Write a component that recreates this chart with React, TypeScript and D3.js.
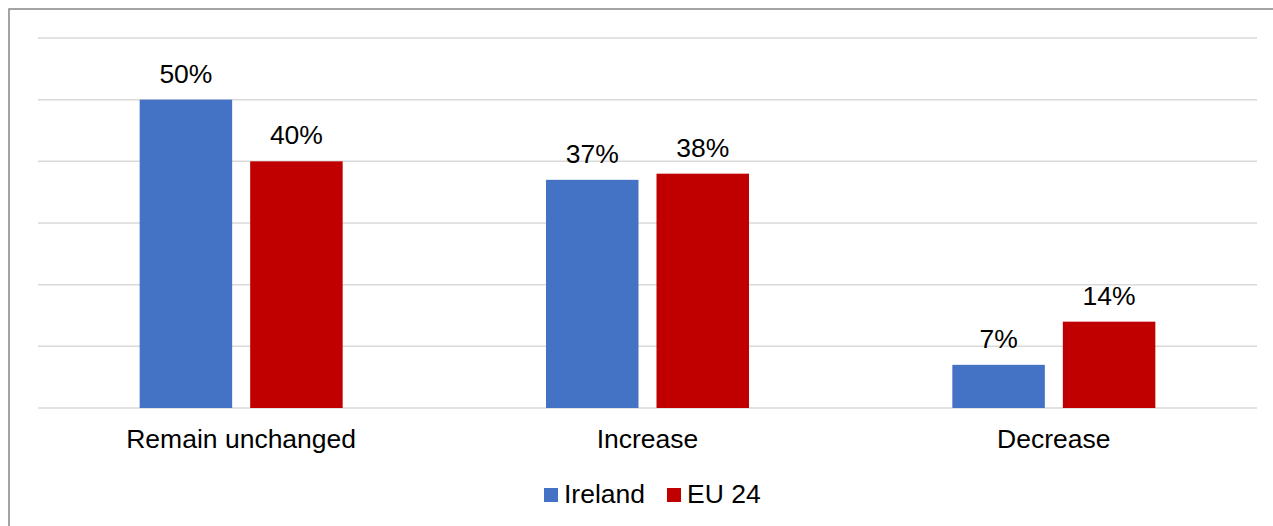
import React from "react";
import * as d3 from "d3";

const categories = ["Remain unchanged", "Increase", "Decrease"];
const seriesNames = ["Ireland", "EU 24"];
const irelandValues = [50, 37, 7];
const eu24Values = [40, 38, 14];
const gridTicks = [0, 10, 20, 30, 40, 50, 60];
const colors = ["#4472C4", "#C00000"];

const W = 1273;
const H = 526;
const FONT = "'Liberation Sans', Arial, sans-serif";
const FS = 26.5;

export default function App() {
  const x = d3.scaleBand<string>().domain(categories).range([38, 1257]).paddingInner(0).paddingOuter(0);
  const groupW = 203;
  const xs = d3.scaleBand<string>().domain(seriesNames).range([0, groupW]).paddingInner(0.163).paddingOuter(0);
  const y = d3.scaleLinear().domain([0, 60]).range([408, 38]);
  const series = [irelandValues, eu24Values];

  return (
    <svg
      width={W}
      height={H}
      style={{ position: "absolute", left: 0, top: 0, display: "block", background: "#fff" }}
    >
      <rect x={9} y={9} width={1300} height={600} fill="#fff" stroke="#868686" strokeWidth={1.5} />
      {gridTicks.map((t) => (
        <line key={t} x1={38} x2={1257} y1={y(t)} y2={y(t)} stroke="#D9D9D9" strokeWidth={1.5} />
      ))}
      {categories.map((c, i) => {
        const gx = (x(c) as number) + (x.bandwidth() - groupW) / 2;
        return (
          <g key={c}>
            {seriesNames.map((s, j) => {
              const v = series[j][i];
              const bx = gx + (xs(s) as number);
              return (
                <g key={s}>
                  <rect x={bx} y={y(v)} width={xs.bandwidth()} height={y(0) - y(v)} fill={colors[j]} />
                  <text
                    x={bx + xs.bandwidth() / 2}
                    y={y(v) - 17}
                    textAnchor="middle"
                    fontFamily={FONT}
                    fontSize={FS}
                    fill="#000"
                  >
                    {v}%
                  </text>
                </g>
              );
            })}
            <text
              x={(x(c) as number) + x.bandwidth() / 2}
              y={448}
              textAnchor="middle"
              fontFamily={FONT}
              fontSize={FS}
              fill="#000"
            >
              {c}
            </text>
          </g>
        );
      })}
      <g>
        {seriesNames.map((s, j) => {
          const lx = j === 0 ? 544 : 667;
          return (
            <g key={s}>
              <rect x={lx} y={488} width={14} height={14} fill={colors[j]} />
              <text x={lx + 20} y={503} fontFamily={FONT} fontSize={FS} fill="#000">
                {s}
              </text>
            </g>
          );
        })}
      </g>
    </svg>
  );
}
